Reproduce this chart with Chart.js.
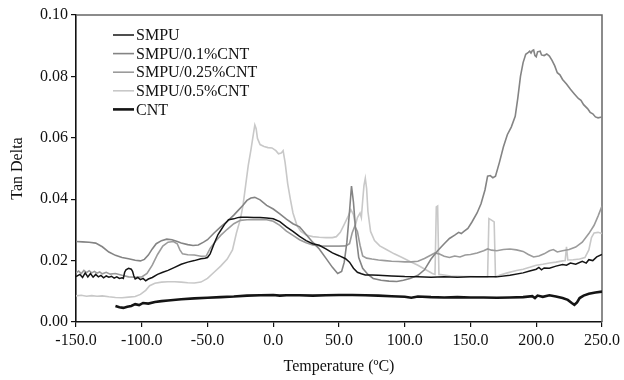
<!DOCTYPE html>
<html>
<head>
<meta charset="utf-8">
<script src="https://cdn.jsdelivr.net/npm/chart.js@4"></script>
<style>
  body { margin: 0; background: #fff; }
  canvas { display: block; }
</style>
</head>
<body>
<canvas id="tanDelta" width="624" height="380"></canvas>
<script>
// temperature (ºC), tan delta
const smpu = [
    [-150, 0.0148], [-147, 0.0155], [-145, 0.0145], [-143, 0.016], [-141, 0.0147], [-139, 0.0158],
    [-137, 0.0146], [-135, 0.0155], [-133, 0.0147], [-131, 0.0152], [-129, 0.0144], [-127, 0.015],
    [-125, 0.0146], [-123, 0.0149], [-121, 0.0143], [-119, 0.0147], [-117, 0.0142], [-115, 0.0144],
    [-114, 0.0142], [-113, 0.0162], [-112, 0.017], [-110, 0.0175], [-108, 0.0172], [-107, 0.0165],
    [-106, 0.015], [-105, 0.014], [-103, 0.0145], [-101, 0.0138], [-99, 0.0142], [-97, 0.0134],
    [-95, 0.014], [-92, 0.0145], [-88, 0.0155], [-84, 0.0162], [-80, 0.0168], [-75, 0.0178],
    [-70, 0.0188], [-65, 0.0195], [-60, 0.02], [-55, 0.0206], [-52, 0.0208], [-50, 0.021],
    [-48, 0.0222], [-45, 0.0255], [-42, 0.0285], [-40, 0.0298], [-37, 0.0318], [-34, 0.0333],
    [-30, 0.0336], [-27, 0.034], [-25, 0.0341], [-20, 0.0341], [-15, 0.034], [-10, 0.034],
    [-5, 0.0339], [0, 0.0336], [5, 0.0327], [10, 0.031], [15, 0.0295], [20, 0.0279], [25, 0.0265],
    [30, 0.0255], [35, 0.025], [40, 0.0238], [45, 0.0225], [50, 0.0216], [55, 0.0206], [58, 0.0195],
    [61, 0.0175], [64, 0.0162], [67, 0.0157], [70, 0.0153], [75, 0.0153], [80, 0.0152], [90, 0.015],
    [100, 0.0148], [110, 0.0147], [120, 0.0146], [130, 0.0147], [140, 0.0146], [150, 0.0147],
    [160, 0.0147], [170, 0.0147], [180, 0.0152], [190, 0.016], [195, 0.0166], [200, 0.0172],
    [202, 0.0178], [204, 0.017], [206, 0.0176], [210, 0.0175], [215, 0.0182], [220, 0.0187],
    [223, 0.0185], [226, 0.0192], [230, 0.0188], [235, 0.0198], [238, 0.0192], [240, 0.0203],
    [243, 0.02], [246, 0.0212], [250, 0.022]
];

const smpu01 = [
    [-150, 0.0262], [-145, 0.0261], [-140, 0.026], [-135, 0.0257], [-130, 0.0245], [-125, 0.0228],
    [-120, 0.0217], [-115, 0.021], [-110, 0.0206], [-105, 0.0201], [-101, 0.0199], [-98, 0.0204],
    [-95, 0.0218], [-92, 0.0238], [-89, 0.0255], [-85, 0.0265], [-81, 0.027], [-77, 0.0268],
    [-73, 0.0262], [-70, 0.0257], [-65, 0.0252], [-61, 0.0249], [-57, 0.0251], [-53, 0.026],
    [-50, 0.0268], [-45, 0.029], [-40, 0.031], [-35, 0.0328], [-30, 0.0348], [-27, 0.0362],
    [-23, 0.038], [-20, 0.0396], [-17, 0.0404], [-14, 0.0406], [-10, 0.0398], [-5, 0.038],
    [0, 0.0368], [5, 0.0352], [10, 0.0335], [15, 0.032], [20, 0.031], [25, 0.0285], [30, 0.026],
    [35, 0.0238], [40, 0.0208], [45, 0.0178], [49, 0.0158], [52, 0.0165], [54, 0.0195], [56, 0.026],
    [58, 0.036], [59.5, 0.0443], [61, 0.039], [63, 0.028], [65, 0.021], [68, 0.0175], [72, 0.0155],
    [76, 0.0142], [82, 0.0136], [88, 0.0133], [94, 0.0132], [99, 0.0136], [104, 0.0142],
    [110, 0.0152], [115, 0.017], [120, 0.0205], [125, 0.0232], [130, 0.0255], [134, 0.0272],
    [138, 0.0283], [141, 0.0292], [143, 0.0288], [145, 0.0295], [148, 0.0305], [151, 0.0325],
    [155, 0.0355], [158, 0.0385], [161, 0.043], [163, 0.0475], [165, 0.0477], [167, 0.047],
    [169, 0.0475], [172, 0.052], [175, 0.057], [178, 0.061], [181, 0.0635], [184, 0.067],
    [186, 0.073], [188, 0.08], [190, 0.0845], [192, 0.0872], [194, 0.0878], [195, 0.0882],
    [196, 0.0876], [197, 0.0884], [198, 0.0886], [199, 0.0868], [200, 0.0864], [201, 0.088],
    [203, 0.0882], [204, 0.087], [206, 0.0868], [208, 0.0873], [210, 0.0866], [212, 0.0852],
    [214, 0.0835], [216, 0.0812], [218, 0.0805], [220, 0.079], [223, 0.0775], [226, 0.0758],
    [229, 0.0743], [232, 0.0728], [234, 0.0722], [236, 0.0708], [239, 0.0695], [241, 0.0683],
    [243, 0.0678], [245, 0.0668], [247, 0.0665], [250, 0.0668]
];

const smpu025 = [
    [-150, 0.016], [-148, 0.0166], [-146, 0.0158], [-144, 0.0168], [-142, 0.0161], [-140, 0.0167],
    [-138, 0.016], [-136, 0.0165], [-134, 0.0159], [-132, 0.0163], [-130, 0.0157], [-127, 0.0162],
    [-124, 0.0156], [-120, 0.0158], [-115, 0.0152], [-110, 0.0147], [-105, 0.0146], [-100, 0.0147],
    [-96, 0.0158], [-92, 0.0185], [-88, 0.022], [-84, 0.0247], [-80, 0.026], [-76, 0.0262],
    [-73, 0.0255], [-71, 0.0235], [-69, 0.0222], [-65, 0.0219], [-60, 0.0218], [-55, 0.0214],
    [-51, 0.0215], [-48, 0.024], [-44, 0.0262], [-40, 0.0282], [-35, 0.0302], [-30, 0.032],
    [-25, 0.0331], [-20, 0.0333], [-10, 0.0334], [-5, 0.0333], [0, 0.0328], [5, 0.0315],
    [10, 0.0296], [15, 0.0282], [20, 0.0268], [25, 0.0258], [30, 0.0251], [35, 0.0248],
    [40, 0.0247], [45, 0.0247], [50, 0.0247], [55, 0.0248], [58, 0.0255], [60, 0.029], [62, 0.0312],
    [64, 0.0295], [66, 0.025], [68, 0.0215], [71, 0.0208], [75, 0.0205], [80, 0.0202], [85, 0.02],
    [90, 0.0198], [95, 0.0197], [100, 0.0196], [105, 0.0196], [110, 0.0198], [115, 0.0207],
    [120, 0.0218], [123, 0.0225], [126, 0.0222], [130, 0.0214], [134, 0.021], [138, 0.0215],
    [142, 0.0212], [146, 0.0218], [150, 0.022], [155, 0.0225], [160, 0.0232], [163, 0.0238],
    [166, 0.0234], [170, 0.0232], [175, 0.0236], [180, 0.0238], [185, 0.0235], [190, 0.023],
    [194, 0.022], [198, 0.0212], [202, 0.0215], [206, 0.0222], [210, 0.0232], [213, 0.0236],
    [216, 0.0228], [220, 0.0232], [225, 0.0236], [230, 0.0244], [235, 0.026], [240, 0.0288],
    [244, 0.0315], [247, 0.0345], [250, 0.0378]
];

const smpu05 = [
    [-150, 0.0085], [-146, 0.0087], [-142, 0.0084], [-138, 0.0086], [-134, 0.0084], [-130, 0.0085],
    [-125, 0.0082], [-120, 0.008], [-115, 0.0079], [-110, 0.0081], [-105, 0.0083], [-101, 0.009],
    [-97, 0.0103], [-94, 0.0118], [-90, 0.0126], [-85, 0.013], [-80, 0.0131], [-75, 0.0131],
    [-70, 0.013], [-65, 0.0128], [-60, 0.0127], [-55, 0.013], [-50, 0.0142], [-45, 0.0162],
    [-40, 0.0182], [-35, 0.0205], [-31, 0.0235], [-28, 0.029], [-25, 0.0335], [-23, 0.038],
    [-21, 0.0445], [-19, 0.051], [-17, 0.056], [-15, 0.0615], [-14, 0.0642], [-13, 0.063],
    [-12, 0.0598], [-10, 0.0578], [-7, 0.0572], [-4, 0.0568], [-1, 0.0567], [2, 0.0558],
    [4, 0.0548], [6, 0.055], [7.5, 0.0558], [9, 0.052], [11, 0.045], [13, 0.04], [15, 0.0355],
    [18, 0.0315], [21, 0.0295], [25, 0.0283], [30, 0.0278], [35, 0.0276], [40, 0.0275],
    [45, 0.0275], [48, 0.0278], [51, 0.0292], [54, 0.0318], [57, 0.0345], [59, 0.0366],
    [61, 0.035], [62.5, 0.0315], [64, 0.034], [66, 0.0355], [67, 0.034], [68, 0.0395],
    [69, 0.0445], [70, 0.0468], [71, 0.0435], [72, 0.036], [74, 0.0295], [77, 0.0265],
    [81, 0.0248], [86, 0.0236], [92, 0.0222], [98, 0.021], [104, 0.0197], [110, 0.0185],
    [116, 0.017], [121, 0.0158], [123, 0.0155], [124, 0.0375], [125, 0.0378], [126, 0.0155],
    [130, 0.0153], [135, 0.015], [140, 0.0149], [145, 0.0148], [150, 0.0148], [155, 0.0147],
    [160, 0.0147], [163, 0.0147], [164, 0.0337], [166, 0.0332], [168, 0.0326], [169, 0.0147],
    [172, 0.0152], [178, 0.016], [185, 0.0168], [190, 0.0172], [195, 0.0178], [200, 0.0185],
    [205, 0.0188], [210, 0.0192], [215, 0.0195], [220, 0.0199], [222, 0.02], [223, 0.0245],
    [224, 0.0202], [228, 0.0203], [233, 0.0205], [237, 0.021], [240, 0.0235], [242, 0.0275],
    [244, 0.029], [247, 0.0292], [250, 0.0288]
];

const cnt = [
    [-120, 0.0052], [-117, 0.0048], [-114, 0.0046], [-111, 0.005], [-108, 0.0052], [-105, 0.0058],
    [-102, 0.0055], [-99, 0.0062], [-95, 0.006], [-90, 0.0065], [-85, 0.0068], [-80, 0.007],
    [-70, 0.0074], [-60, 0.0077], [-50, 0.0079], [-40, 0.0081], [-30, 0.0083], [-20, 0.0086],
    [-10, 0.0087], [0, 0.0088], [5, 0.0086], [10, 0.0087], [20, 0.0087], [30, 0.0086],
    [40, 0.0087], [50, 0.0088], [60, 0.0088], [70, 0.0087], [80, 0.0086], [90, 0.0084],
    [100, 0.0082], [105, 0.0079], [110, 0.0083], [120, 0.0081], [130, 0.008], [140, 0.0081],
    [150, 0.008], [160, 0.008], [170, 0.0079], [180, 0.008], [190, 0.0081], [197, 0.0084],
    [199, 0.0078], [201, 0.0086], [205, 0.0082], [210, 0.0087], [215, 0.0083], [220, 0.0078],
    [224, 0.0072], [227, 0.0062], [229, 0.0056], [231, 0.0064], [233, 0.0078], [236, 0.0086],
    [240, 0.0092], [245, 0.0096], [250, 0.0099]
];

const seriesNames = ['SMPU', 'SMPU/0.1%CNT', 'SMPU/0.25%CNT', 'SMPU/0.5%CNT', 'CNT'];
const seriesData = [smpu, smpu01, smpu025, smpu05, cnt];
const seriesColors = ['#141414', '#848484', '#9b9b9b', '#c8c8c8', '#141414'];
const seriesWidths = [1.5, 1.6, 1.6, 1.6, 2.6];

const FONT = 'Liberation Serif';

const datasets = seriesData.map((pts, i) => ({
    label: seriesNames[i],
    data: pts.map(p => ({ x: p[0], y: p[1] })),
    borderColor: seriesColors[i],
    backgroundColor: seriesColors[i],
    borderWidth: seriesWidths[i],
    pointRadius: 0,
    tension: 0,
    fill: false
}));

// grey top/right frame
const framePlugin = {
    id: 'frame',
    beforeDatasetsDraw(chart) {
        const { ctx, chartArea: a } = chart;
        ctx.save();
        ctx.strokeStyle = '#666';
        ctx.lineWidth = 1.5;
        ctx.beginPath();
        ctx.moveTo(a.left, a.top);
        ctx.lineTo(a.right, a.top);
        ctx.lineTo(a.right, a.bottom);
        ctx.stroke();
        ctx.restore();
    }
};

// legend inside the plot, top-left
const insideLegend = {
    id: 'insideLegend',
    afterDraw(chart) {
        const ctx = chart.ctx;
        ctx.save();
        ctx.font = '16px "' + FONT + '"';
        ctx.textBaseline = 'middle';
        ctx.fillStyle = '#111';
        chart.data.datasets.forEach((ds, i) => {
            const y = 35 + i * 18.6;
            ctx.strokeStyle = ds.borderColor;
            ctx.lineWidth = ds.borderWidth;
            ctx.beginPath();
            ctx.moveTo(113, y);
            ctx.lineTo(134, y);
            ctx.stroke();
            ctx.fillText(ds.label, 136, y + 1);
        });
        ctx.restore();
    }
};

new Chart(document.getElementById('tanDelta'), {
    type: 'line',
    data: { datasets: datasets },
    options: {
        responsive: false,
        animation: false,
        layout: { padding: { left: 0, right: 22, top: 15, bottom: 0 } },
        plugins: {
            legend: { display: false },
            tooltip: { enabled: false }
        },
        scales: {
            x: {
                type: 'linear',
                min: -150,
                max: 250,
                afterFit: s => { s.height = 58; },
                ticks: {
                    stepSize: 50,
                    padding: 4,
                    color: '#111',
                    font: { family: FONT, size: 16 },
                    callback: v => v.toFixed(1)
                },
                grid: { drawOnChartArea: false, drawTicks: true, tickLength: 5, color: '#111', lineWidth: 1.2 },
                border: { color: '#111', width: 1.6 },
                title: {
                    display: true,
                    text: 'Temperature (ºC)',
                    color: '#111',
                    font: { family: FONT, size: 16 },
                    padding: { top: 0, bottom: 4 }
                }
            },
            y: {
                min: 0,
                max: 0.1,
                afterFit: s => { s.width = 76; },
                ticks: {
                    stepSize: 0.02,
                    padding: 3,
                    color: '#111',
                    font: { family: FONT, size: 16 },
                    callback: v => v.toFixed(2)
                },
                grid: { drawOnChartArea: false, drawTicks: true, tickLength: 5, color: '#111', lineWidth: 1.2 },
                border: { color: '#111', width: 1.6 },
                title: {
                    display: true,
                    text: 'Tan Delta',
                    color: '#111',
                    font: { family: FONT, size: 16 },
                    padding: { top: 8, bottom: 0 }
                }
            }
        }
    },
    plugins: [framePlugin, insideLegend]
});
</script>
</body>
</html>
